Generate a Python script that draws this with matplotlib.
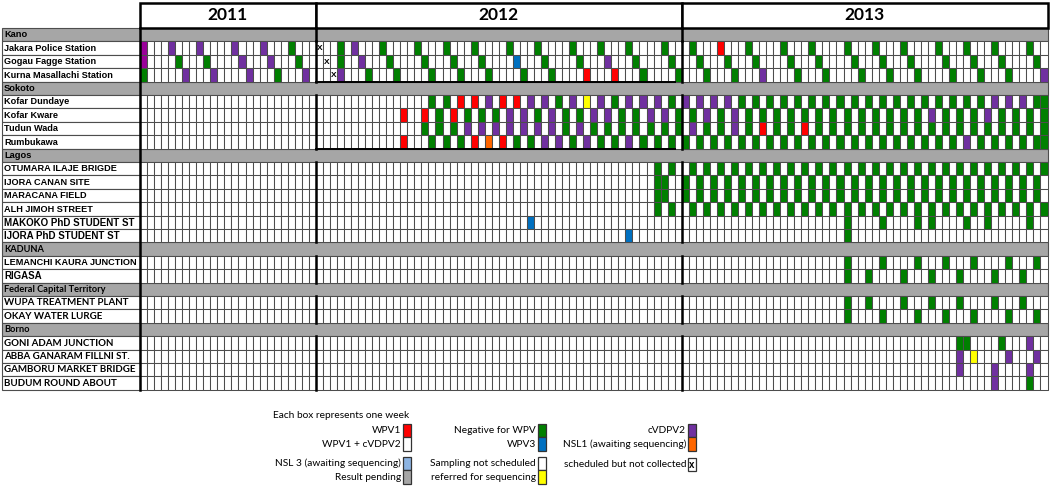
import matplotlib.pyplot as plt
from matplotlib.patches import Rectangle
from matplotlib.collections import PatchCollection

# year blocks (number of weekly boxes in each)
years = ["2011", "2012", "2013"]
year_weeks = [25, 52, 52]

groups = ["Kano", "Sokoto", "Lagos", "KADUNA", "Federal Capital Territory", "Borno"]
group_sizes = [3, 4, 6, 2, 2, 4]
sites = ["Jakara Police Station", "Gogau Fagge Station", "Kurna Masallachi Station",
         "Kofar Dundaye", "Kofar Kware", "Tudun Wada", "Rumbukawa",
         "OTUMARA ILAJE BRIGDE", "IJORA CANAN SITE", "MARACANA FIELD", "ALH JIMOH STREET",
         "MAKOKO PhD STUDENT ST", "IJORA PhD STUDENT ST",
         "LEMANCHI KAURA JUNCTION", "RIGASA",
         "WUPA TREATMENT PLANT", "OKAY WATER LURGE",
         "GONI ADAM JUNCTION", "ABBA GANARAM FILLNI ST.", "GAMBORU MARKET BRIDGE", "BUDUM ROUND ABOUT"]
big_sites = ["MAKOKO PhD STUDENT ST", "IJORA PhD STUDENT ST", "RIGASA"]
calibri_labels = ["KADUNA", "Federal Capital Territory", "Borno", "WUPA TREATMENT PLANT",
                  "OKAY WATER LURGE", "GONI ADAM JUNCTION", "ABBA GANARAM FILLNI ST.",
                  "GAMBORU MARKET BRIDGE", "BUDUM ROUND ABOUT"]

# one character per week: . white, g negative, p cVDPV2, r WPV1, b WPV3,
# o NSL1, y referred for sequencing, m cVDPV2 (magenta), x scheduled not collected
E11 = ".......... .......... ....."
E12 = ".......... .......... .......... .......... .......... .."
w2011 = [
    "m...p...p. ...p...p.. .g...",
    "m....g...g ....p...p. ..g..",
    "g.....p... p....p...g ...p.",
] + [E11] * 18
w2012 = [
    "x..g.p...g ....g...g. ..g....g.. .g....g... g...g....g ..",
    ".x.g..p... g....g...g ...g....b. ..g....g.. .p...g.... g.",
    "..xp...g.. .g....g... g...g....g ...g....r. ..r...g... .g",
    ".......... ......g.g. r.r.p.r.r. p.p.g.p.y. p.g.p.p.p. g.",
    ".......... ..r..r.g.r .g.g.g.p.p .g.p.g.g.p .p.g.g.p.p .g",
    ".......... .....g.g.g .p.p.p.p.p .p.p.g.p.g .g.g.g.g.g .g",
    ".......... ..r...g.g. g.r.o.r.g. g.p.p.g.p. g.g.p.g.g. g.",
    ".......... .......... .......... .......... ........g. g.",
    ".......... .......... .......... .......... ........gg ..",
    ".......... .......... .......... .......... ........gg ..",
    ".......... .......... .......... .......... ........g. g.",
    ".......... .......... .......... b......... .......... ..",
    ".......... .......... .......... .......... ....b..... ..",
] + [E12] * 8
w2013 = [
    ".g...r...g ....g...g. ...g...g.. .g....g... g...g....g ..",
    "..g...g... g....g...g ....g...g. ..g....g.. .g...g.... g.",
    "...g...g.. .p....g... g....g...g ...g....g. ..g...g... .p",
    "p.p.p.p.g. g.g.g.g.g. g.g.g.g.g. g.g.g.g.g. g.g.p.p.p. gg",
    ".g.p.g.p.g .g.g.g.g.g .g.g.g.g.g .g.g.p.g.g .g.p.g.g.g .g",
    ".p.g.g.p.g .r.g.g.r.g .g.g.g.g.g .g.g.g.g.g .g.g.g.g.g .g",
    "g.g.g.g.g. g.g.g.g.g. g.g.g.g.g. g.g.g.g.g. p.g.g.g.g. gg",
    ".g.g.g.g.g .g.g.g.g.g .g.g.g.g.g .g.g.g.g.g .g.g.g.g.g .g",
    "g.g.g.g.g. g.g.g.g.g. g.g.g.g.g. g.g.g.g.g. g.g.g.g.g. g.",
    "g.g.g.g.g. g.g.g.g.g. g.g.g.g.g. g.g.g.g.g. g.g.g.g.g. g.",
    ".g.g.g.g.g .g.g.g.g.g .g.g.g.g.g .g.g.g.g.g .g.g.g.g.g .g",
    ".......... .......... ...g....g. ...g.g.... g..g.....g ..",
    ".......... .......... ...g...... .......... .......... ..",
    ".......... .......... ...g....g. ...g...g.. .g....g... g.",
    ".......... .......... ...g..g... .g...g...g ....g...g. ..",
    ".......... .......... ...g..g... .g...g...g ....g...g. ..",
    ".......... .......... ...g....g. ...g...g.. .g....g... g.",
    ".......... .......... .......... .........g g....g...p ..",
    ".......... .......... .......... .........p .y....p... p.",
    ".......... .......... .......... .........p ....p....p ..",
    ".......... .......... .......... .......... ....p....g ..",
]

colors = {".": "white", "x": "white", "g": "#008000", "p": "#7030a0", "r": "#ff0000",
          "b": "#0070c0", "o": "#ff6600", "y": "#ffff00", "m": "#990099"}

# legend: (label, colour) stacked in three columns
leg1 = [("WPV1", "#ff0000"), ("WPV1 + cVDPV2", "white")]
leg1b = [("NSL 3 (awaiting sequencing)", "#8db4e2"), ("Result pending", "#a6a6a6")]
leg2 = [("Negative for WPV", "#008000"), ("WPV3", "#0070c0")]
leg2b = [("Sampling not scheduled", "white"), ("referred for sequencing", "#ffff00")]
leg3 = [("cVDPV2", "#7030a0"), ("NSL1 (awaiting sequencing)", "#ff6600")]

# ---- layout: 1 data unit = one week box wide, one row high
CW, CH = 7.035, 13.4
X0, Y0 = 140, 28
def X(px):
    return (px - X0) / CW
def Y(py):
    return (py - Y0) / CH

ncol = sum(year_weeks)
grey = "#a6a6a6"
line = "#4d4d4d"
arial = "Liberation Sans"
calibri = "Lato"

fig = plt.figure(figsize=(10.5, 4.9), dpi=100)
ax = fig.add_axes([0, 0, 1, 1])
ax.set_xlim(X(0), X(1050))
ax.set_ylim(Y(490), Y(0))
ax.axis("off")

week_rows = [(a + b + c).replace(" ", "") for a, b, c in zip(w2011, w2012, w2013)]
for r in week_rows:
    assert len(r) == ncol, len(r)

cells, fcs = [], []
row = 0
si = 0
blocks = []
for g, n in zip(groups, group_sizes):
    # grey group band
    ax.add_patch(Rectangle((X(2), row), ncol - X(2), 1, facecolor=grey, edgecolor=line, lw=0.8))
    fam = calibri if g in calibri_labels else arial
    ax.text(X(4), row + 0.5, g, ha="left", va="center", fontsize=6.7, fontweight="bold", family=fam)
    row += 1
    blocks.append((row, row + n))
    for k in range(n):
        name = sites[si]
        ax.add_patch(Rectangle((X(2), row), -X(2), 1, facecolor="white", edgecolor=line, lw=0.8))
        if name in big_sites:
            fam, fs = arial, 7.0
        elif name in calibri_labels:
            fam, fs = calibri, 7
        else:
            fam, fs = arial, 6.6
        ax.text(X(4), row + 0.52, name, ha="left", va="center", fontsize=fs, fontweight="bold", family=fam)
        for c, code in enumerate(week_rows[si]):
            cells.append(Rectangle((c, row), 1, 1))
            fcs.append(colors[code])
            if code == "x":
                ax.text(c + 0.5, row + 0.55, "X", ha="center", va="center", fontsize=6,
                        fontweight="bold", family=arial)
        row += 1
        si += 1

ax.add_collection(PatchCollection(cells, facecolors=fcs, edgecolors=line, linewidths=0.75))

# year header boxes and thick year separators
starts = [0]
for w in year_weeks:
    starts.append(starts[-1] + w)
for i, yr in enumerate(years):
    ax.add_patch(Rectangle((starts[i], Y(3)), year_weeks[i], -Y(3), facecolor="white",
                           edgecolor="black", lw=1.8))
    ax.text((starts[i] + starts[i + 1]) / 2, Y(3) / 2, yr, ha="center", va="center",
            fontsize=12.5, fontweight="bold", family=calibri)
ax.plot([0, 0], [0, row], color="black", lw=1.8)
for s in starts[1:-1]:
    ax.plot([s, s], [0, 1], color="black", lw=1.8)
    for b0, b1 in blocks:
        ax.plot([s, s], [b0, b1], color="black", lw=1.8)
# outlined 2012 blocks for Kano and Sokoto
for b0, b1 in blocks[:2]:
    ax.plot([starts[1], starts[2] - 1], [b1, b1], color="black", lw=1.4)

# ---- legend
ax.text(X(409), Y(415), "Each box represents one week", ha="right", va="center",
        fontsize=7.3, family=calibri)

def legend_col(items, bx, ytop):
    y = Y(ytop)
    for lab, col in items:
        ax.add_patch(Rectangle((X(bx), y), X(bx + 8) - X(bx), 1, facecolor=col,
                               edgecolor="#333333", lw=0.9))
        ax.text(X(bx - 2), y + 0.5, lab, ha="right", va="center", fontsize=7.3, family=calibri)
        y += 1

legend_col(leg1, 403, 424)
legend_col(leg1b, 403, 457)
legend_col(leg2, 538, 424)
legend_col(leg2b, 538, 457)
legend_col(leg3, 688, 424)
ax.add_patch(Rectangle((X(688), Y(458)), X(696) - X(688), 1, facecolor="white",
                       edgecolor="#333333", lw=0.9))
ax.text(X(692), Y(458) + 0.55, "x", ha="center", va="center", fontsize=7, fontweight="bold", family=arial)
ax.text(X(686), Y(458) + 0.5, "scheduled but not collected", ha="right", va="center",
        fontsize=7.3, family=calibri)

fig.savefig("out.png", dpi=100)
